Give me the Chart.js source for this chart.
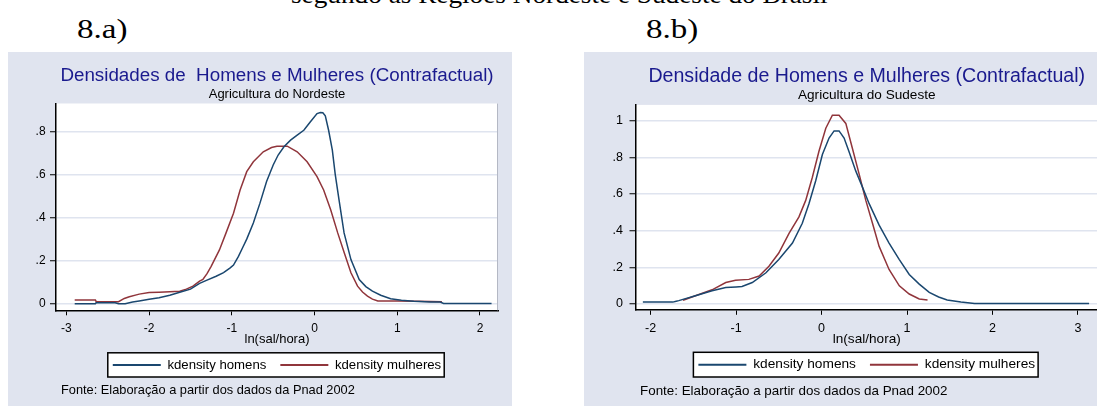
<!DOCTYPE html>
<html lang="pt">
<head>
<meta charset="UTF-8">
<title>Densidades de Homens e Mulheres</title>
<script src="https://cdn.jsdelivr.net/npm/chart.js"></script>
<style>
  html, body { margin: 0; padding: 0; background: #fff; width: 1097px; height: 406px; overflow: hidden; position: relative; }
  .doc { position: absolute; font-family: "Liberation Serif", "Times New Roman", serif; color: #000; white-space: nowrap; line-height: 1; transform-origin: left top; }
  .painel { position: absolute; background: #e0e4ef; }
  canvas { position: absolute; }
  .fonte { position: absolute; font-family: "Liberation Sans", Arial, sans-serif; color: #000; white-space: nowrap; line-height: 1; }
</style>
</head>
<body>
<div class="doc" style="left:291px; top:-18px; font-size:25px; transform:scaleX(1.09);">segundo as Regiões Nordeste e Sudeste do Brasil</div>
<div class="doc" style="left:77px; top:15px; font-size:28px; transform:scaleX(1.18);">8.a)</div>
<div class="doc" style="left:646px; top:15px; font-size:28px; transform:scaleX(1.18);">8.b)</div>

<div class="painel" style="left:8px; top:52px; width:504px; height:360px;"></div>
<div class="painel" style="left:584px; top:52px; width:530px; height:360px;"></div>
<canvas id="graf_a" width="504" height="354" style="left:8px; top:52px;"></canvas>
<canvas id="graf_b" width="530" height="354" style="left:584px; top:52px;"></canvas>
<div class="fonte" style="left:61px; top:384px; font-size:12.8px;">Fonte: Elaboração a partir dos dados da Pnad 2002</div>
<div class="fonte" style="left:640px; top:384px; font-size:13.4px;">Fonte: Elaboração a partir dos dados da Pnad 2002</div>

<script>
// nomes das series
const series = ['kdensity homens', 'kdensity mulheres'];

// 8.a) Agricultura do Nordeste
const xTicksA = [-3, -2, -1, 0, 1, 2];
const yTicksA = [0, 0.2, 0.4, 0.6, 0.8];
const yLabelsA = ['0', '.2', '.4', '.6', '.8'];

const xHomensA = [-2.90, -2.65, -2.64, -2.41, -2.37, -2.29, -2.20, -2.12, -2.00, -1.88, -1.75, -1.63, -1.50, -1.39, -1.30, -1.19, -1.10, -1.02, -0.98, -0.92, -0.87, -0.82, -0.74, -0.66, -0.58, -0.50, -0.44, -0.37, -0.29, -0.21, -0.13, -0.05, 0.03, 0.07, 0.10, 0.13, 0.17, 0.215, 0.25, 0.296, 0.357, 0.44, 0.54, 0.62, 0.70, 0.80, 0.92, 1.05, 1.20, 1.40, 1.52, 1.56, 2.14];
const yHomensA = [0.000, 0.000, 0.005, 0.005, 0.000, 0.000, 0.008, 0.013, 0.021, 0.028, 0.040, 0.054, 0.068, 0.095, 0.110, 0.128, 0.145, 0.167, 0.180, 0.220, 0.260, 0.300, 0.375, 0.467, 0.567, 0.644, 0.690, 0.728, 0.759, 0.782, 0.805, 0.844, 0.882, 0.887, 0.886, 0.872, 0.805, 0.713, 0.600, 0.482, 0.329, 0.205, 0.113, 0.080, 0.059, 0.040, 0.024, 0.017, 0.012, 0.009, 0.008, 0.002, 0.002];

const xMulheresA = [-2.90, -2.65, -2.64, -2.37, -2.30, -2.24, -2.12, -2.00, -1.88, -1.75, -1.63, -1.55, -1.47, -1.39, -1.35, -1.30, -1.25, -1.15, -1.07, -0.98, -0.90, -0.82, -0.74, -0.62, -0.52, -0.455, -0.33, -0.21, -0.09, 0.03, 0.11, 0.195, 0.28, 0.36, 0.44, 0.52, 0.58, 0.64, 0.70, 0.765, 1.00, 1.25, 1.40, 1.54];
const yMulheresA = [0.018, 0.018, 0.010, 0.010, 0.025, 0.033, 0.045, 0.052, 0.054, 0.056, 0.058, 0.068, 0.082, 0.105, 0.113, 0.140, 0.174, 0.250, 0.329, 0.420, 0.528, 0.613, 0.659, 0.705, 0.725, 0.731, 0.731, 0.705, 0.659, 0.590, 0.528, 0.436, 0.329, 0.236, 0.144, 0.082, 0.055, 0.036, 0.022, 0.013, 0.013, 0.012, 0.011, 0.010];

// 8.b) Agricultura do Sudeste
const xTicksB = [-2, -1, 0, 1, 2, 3];
const yTicksB = [0, 0.2, 0.4, 0.6, 0.8, 1];
const yLabelsB = ['0', '.2', '.4', '.6', '.8', '1'];

const xHomensB = [-2.09, -1.74, -1.70, -1.67, -1.475, -1.28, -1.12, -1.00, -0.93, -0.81, -0.65, -0.50, -0.34, -0.225, -0.147, -0.068, 0.01, 0.088, 0.147, 0.205, 0.264, 0.32, 0.40, 0.48, 0.557, 0.674, 0.79, 0.91, 1.026, 1.143, 1.26, 1.37, 1.47, 1.63, 1.79, 3.13];
const yHomensB = [0.010, 0.010, 0.015, 0.018, 0.045, 0.072, 0.090, 0.093, 0.095, 0.117, 0.170, 0.242, 0.332, 0.440, 0.547, 0.672, 0.815, 0.905, 0.944, 0.944, 0.905, 0.833, 0.726, 0.636, 0.547, 0.430, 0.332, 0.242, 0.161, 0.108, 0.063, 0.038, 0.022, 0.010, 0.002, 0.002];

const xMulheresB = [-1.62, -1.475, -1.28, -1.12, -1.006, -0.85, -0.73, -0.615, -0.50, -0.38, -0.264, -0.185, -0.108, -0.03, 0.05, 0.127, 0.205, 0.284, 0.36, 0.44, 0.518, 0.596, 0.674, 0.79, 0.91, 1.026, 1.143, 1.24];
const yMulheresB = [0.020, 0.045, 0.077, 0.117, 0.129, 0.134, 0.152, 0.206, 0.278, 0.385, 0.475, 0.565, 0.690, 0.833, 0.959, 1.030, 1.030, 0.985, 0.851, 0.708, 0.565, 0.440, 0.314, 0.188, 0.099, 0.054, 0.027, 0.022];

const AZUL = '#1a476f';
const VERMELHO = '#90353b';
const GRADE = '#dfe4ef';

Chart.defaults.font.family = '"Liberation Sans", Arial, sans-serif';
Chart.defaults.color = '#000';

function pontos(xs, ys) {
    return xs.map((x, i) => ({ x: x, y: ys[i] }));
}

// fundo branco do grafico, caixa da legenda e linha da direita
const moldura = {
    id: 'moldura',
    beforeDraw(chart) {
        const ctx = chart.ctx;
        const a = chart.chartArea;
        ctx.save();
        ctx.fillStyle = '#fff';
        ctx.fillRect(a.left, a.top, a.right - a.left, a.bottom - a.top);
        const hb = chart.legend.legendHitBoxes;
        if (hb && hb.length) {
            const ult = hb[hb.length - 1];
            const l = hb[0].left - 5;
            const r = ult.left + ult.width + 3;
            const t = hb[0].top - 5.5;
            const h = hb[0].height + 11;
            ctx.fillRect(l, t, r - l, h);
            ctx.strokeStyle = '#000';
            ctx.lineWidth = 1.5;
            ctx.strokeRect(l, t, r - l, h);
        }
        ctx.restore();
    },
    afterDraw(chart) {
        const ctx = chart.ctx;
        const a = chart.chartArea;
        ctx.save();
        ctx.strokeStyle = '#b4b8c4';
        ctx.lineWidth = 1;
        ctx.beginPath();
        ctx.moveTo(a.right - 0.5, a.top);
        ctx.lineTo(a.right - 0.5, a.bottom);
        ctx.stroke();
        ctx.restore();
    }
};

function grafico(id, c) {
    new Chart(document.getElementById(id), {
        type: 'line',
        data: {
            datasets: [
                { label: series[0], data: pontos(c.xh, c.yh), borderColor: AZUL, backgroundColor: AZUL, borderWidth: 1.5, pointRadius: 0, tension: 0 },
                { label: series[1], data: pontos(c.xm, c.ym), borderColor: VERMELHO, backgroundColor: VERMELHO, borderWidth: 1.5, pointRadius: 0, tension: 0 }
            ]
        },
        options: {
            responsive: false,
            animation: false,
            devicePixelRatio: 1,
            layout: { padding: { top: 0, left: 0, right: c.padDir, bottom: 24.5 } },
            scales: {
                x: {
                    type: 'linear',
                    min: c.xmin, max: c.xmax,
                    afterBuildTicks: s => { s.ticks = c.xticks.map(v => ({ value: v })); },
                    afterFit: s => { s.height = 34; },
                    grid: { drawOnChartArea: false, drawTicks: true, tickLength: 5, tickColor: '#000', tickWidth: 1 },
                    border: { color: '#000', width: 1.5 },
                    ticks: { autoSkip: false, maxRotation: 0, padding: 6.5, font: { size: c.fTick }, color: '#000' },
                    title: { display: true, text: 'ln(sal/hora)', font: { size: c.fEixo, lineHeight: 0.7 }, padding: { top: 0, bottom: 0 }, color: '#000' }
                },
                y: {
                    min: c.ymin, max: c.ymax,
                    afterBuildTicks: s => { s.ticks = c.yticks.map(v => ({ value: v })); },
                    afterFit: s => { s.width = c.largY; },
                    grid: { color: GRADE, lineWidth: 1.5, drawTicks: true, tickLength: 6, tickColor: '#000', tickWidth: 1 },
                    border: { color: '#000', width: 1.5 },
                    ticks: { padding: c.padY, font: { size: c.fTick }, color: '#000', callback: v => c.ylabels[c.yticks.indexOf(v)] }
                }
            },
            plugins: {
                title: {
                    display: true, text: c.titulo, color: '#1a1a8e', fullSize: false,
                    font: { size: c.fTitulo, weight: 'normal', lineHeight: 1 },
                    padding: { top: 14.6, bottom: 0 }
                },
                subtitle: {
                    display: true, text: c.sub, color: '#000', fullSize: false,
                    font: { size: c.fSub, lineHeight: 1 },
                    padding: { top: 2.35, bottom: 2.75 }
                },
                legend: {
                    position: 'bottom', fullSize: false,
                    labels: {
                        usePointStyle: true, pointStyle: 'line', pointStyleWidth: 48, padding: 14,
                        font: { size: c.fLeg }, color: '#000',
                        generateLabels: ch => Chart.defaults.plugins.legend.labels.generateLabels(ch).map(it => Object.assign(it, { lineWidth: 2 }))
                    }
                },
                tooltip: { enabled: false }
            }
        },
        plugins: [moldura]
    });
}

grafico('graf_a', {
    xh: xHomensA, yh: yHomensA, xm: xMulheresA, ym: yMulheresA,
    xticks: xTicksA, yticks: yTicksA, ylabels: yLabelsA,
    xmin: -3.126, xmax: 2.218, ymin: -0.030, ymax: 0.929,
    padDir: 14, largY: 48, padY: 4.4,
    titulo: 'Densidades de  Homens e Mulheres (Contrafactual)', sub: 'Agricultura do Nordeste',
    fTitulo: 18.8, fSub: 13, fTick: 12, fEixo: 13, fLeg: 13.2
});

grafico('graf_b', {
    xh: xHomensB, yh: yHomensB, xm: xMulheresB, ym: yMulheresB,
    xticks: xTicksB, yticks: yTicksB, ylabels: yLabelsB,
    xmin: -2.176, xmax: 3.234, ymin: -0.032, ymax: 1.086,
    padDir: 16, largY: 51.5, padY: 6.5,
    titulo: 'Densidade de Homens e Mulheres (Contrafactual)', sub: 'Agricultura do Sudeste',
    fTitulo: 19.6, fSub: 13.6, fTick: 12.5, fEixo: 13.6, fLeg: 13.7
});
</script>
</body>
</html>
